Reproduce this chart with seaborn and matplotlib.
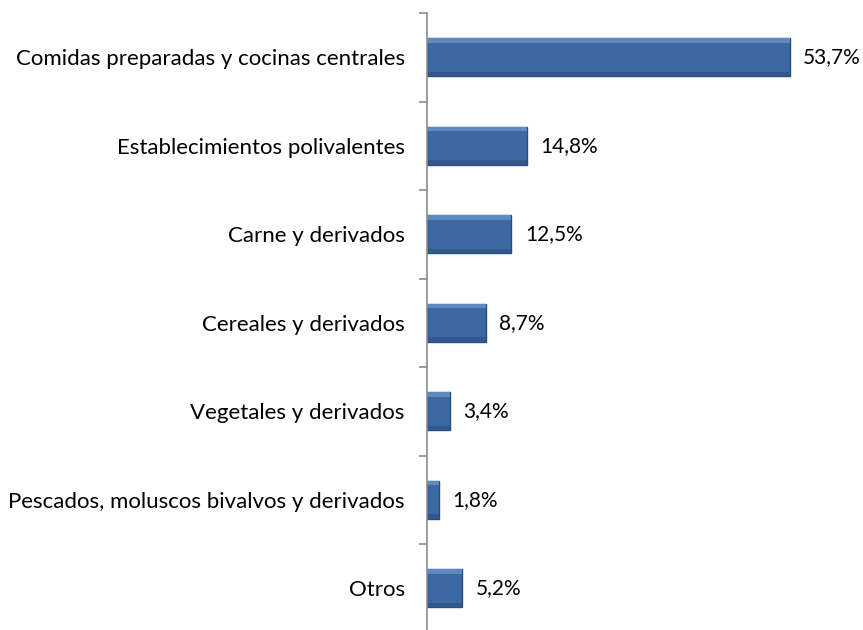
import seaborn as sns
import matplotlib.pyplot as plt
import pandas as pd

# data
categorias = ["Comidas preparadas y cocinas centrales",
              "Establecimientos polivalentes",
              "Carne y derivados",
              "Cereales y derivados",
              "Vegetales y derivados",
              "Pescados, moluscos bivalvos y derivados",
              "Otros"]
porcentajes = [53.7, 14.8, 12.5, 8.7, 3.4, 1.8, 5.2]

df = pd.DataFrame({"cat": categorias, "pct": porcentajes})

sns.set_style("white")
plt.rcParams['font.family'] = ['Lato', 'DejaVu Sans']

fig = plt.figure(figsize=(8.63, 6.30), dpi=100)
ax = fig.add_axes([0.4948, -0.004, 0.485, 0.983])

sns.barplot(data=df, y="cat", x="pct", orient="h", color="#3C69A1",
            width=0.43, edgecolor="#2A4D7A", linewidth=1.0, saturation=1,
            ax=ax)

# soft strips top and bottom to fake the bevel
for p in ax.patches:
    x0, y0 = p.get_x(), p.get_y()
    w, h = p.get_width(), p.get_height()
    ax.add_patch(plt.Rectangle((x0, y0), w, h * 0.12, color="#5F8AC0",
                               lw=0, zorder=p.get_zorder() + 0.1))
    ax.add_patch(plt.Rectangle((x0, y0 + h * 0.88), w, h * 0.12, color="#30588C",
                               lw=0, zorder=p.get_zorder() + 0.1))

for i, v in enumerate(porcentajes):
    ax.text(v + 2.0, i, f"{v:.1f}".replace(".", ",") + "%", va="center",
            ha="left", fontsize=15, color="black")

ax.set_xlim(0, 62)
ax.set_ylim(6.5, -0.5)
ax.set_xlabel("")
ax.set_ylabel("")
ax.set_xticks([])
ax.set_yticks(range(len(categorias)))
ax.set_yticklabels(categorias, fontsize=16, color="black")
ax.set_yticks([i - 0.5 for i in range(len(categorias) + 1)], minor=True)
ax.tick_params(axis="y", which="major", length=0, pad=16)
ax.tick_params(axis="y", which="minor", length=6, width=1.2, color="#8C8C8C", left=True)
for s in ["top", "right", "bottom"]:
    ax.spines[s].set_visible(False)
ax.spines["left"].set_color("#8C8C8C")
ax.spines["left"].set_linewidth(1.2)

plt.savefig("out.png", dpi=100)
